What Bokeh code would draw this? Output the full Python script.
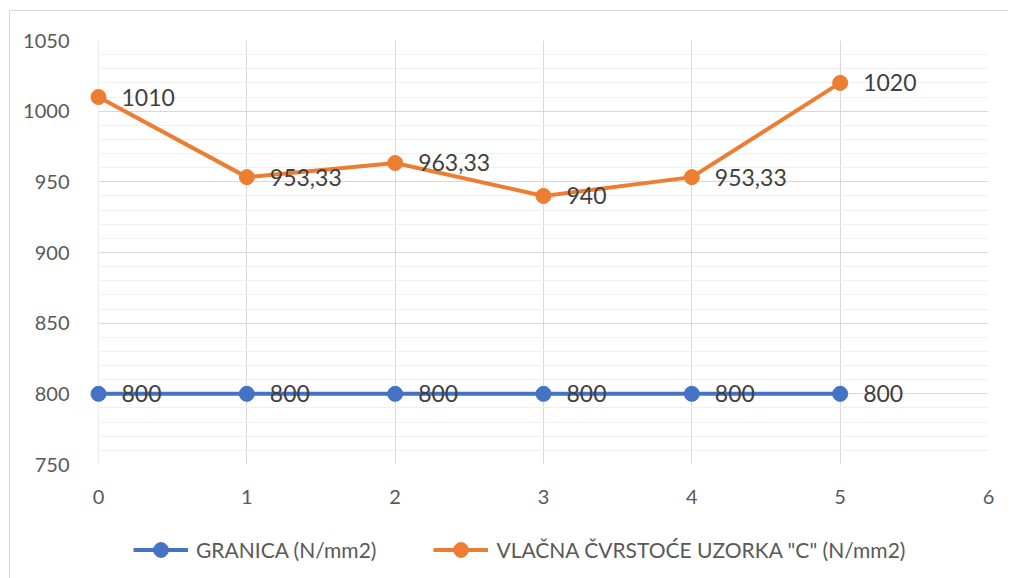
from bokeh.plotting import figure
from bokeh.layouts import column
from bokeh.models import (Range1d, ColumnDataSource, Legend, LegendItem, FixedTicker,
                          LabelSet, BoxAnnotation)
from bokeh.core.properties import value
from bokeh.embed import file_html
from bokeh.resources import INLINE

x_vals = [0, 1, 2, 3, 4, 5]
granica = [800, 800, 800, 800, 800, 800]
vlacna = [1010, 953.33, 963.33, 940, 953.33, 1020]
granica_labels = ["800", "800", "800", "800", "800", "800"]
vlacna_labels = ["1010", "953,33", "963,33", "940", "953,33", "1020"]
y_ticks = [750, 800, 850, 900, 950, 1000, 1050]
x_ticks = [0, 1, 2, 3, 4, 5, 6]
series_names = ["GRANICA (N/mm2)", "VLAČNA ČVRSTOĆE UZORKA \"C\" (N/mm2)"]

BLUE = "#4472C4"
ORANGE = "#ED7D31"
TXT = "#595959"
FONT = "Lato"

# frame starts 10px left of x=0 so the first markers are not clipped
PAD = 10 / (890 / 6)
p = figure(width=998, height=513, output_backend="svg", toolbar_location=None,
           x_range=Range1d(-PAD, 6), y_range=Range1d(750, 1050),
           min_border_left=78, min_border_right=20, min_border_top=29, min_border_bottom=60)
p.outline_line_color = None
p.background_fill_color = "white"
p.border_fill_color = "white"

p.xaxis.ticker = FixedTicker(ticks=x_ticks)
p.yaxis.ticker = FixedTicker(ticks=y_ticks, minor_ticks=list(range(750, 1051, 10)))
for ax in (p.xaxis, p.yaxis):
    ax.major_tick_line_color = None
    ax.minor_tick_line_color = None
    ax.major_label_text_font = FONT
    ax.major_label_text_font_size = "20px"
    ax.major_label_text_color = TXT
    ax.axis_line_color = None
p.yaxis.major_label_standoff = 13
p.xaxis.major_label_standoff = 19

p.xgrid.grid_line_color = "#d9d9d9"
p.ygrid.grid_line_color = "#d9d9d9"
p.ygrid.minor_grid_line_color = "#f0f0f0"

# white strip hiding the grid left of x = 0
p.add_layout(BoxAnnotation(right=0, fill_color="white", fill_alpha=1,
                           line_color=None, level="underlay"))

src_g = ColumnDataSource(dict(x=x_vals, y=granica, t=granica_labels))
src_v = ColumnDataSource(dict(x=x_vals, y=vlacna, t=vlacna_labels))

p.line("x", "y", source=src_g, line_color=BLUE, line_width=4)
p.scatter("x", "y", source=src_g, size=15, fill_color=BLUE, line_color=BLUE)
p.line("x", "y", source=src_v, line_color=ORANGE, line_width=4)
p.scatter("x", "y", source=src_v, size=15, fill_color=ORANGE, line_color=ORANGE)

for src in (src_g, src_v):
    p.add_layout(LabelSet(x="x", y="y", text="t", source=src, x_offset=23, y_offset=0,
                          text_baseline="middle", text_align="left",
                          text_font=value(FONT), text_font_size="23px", text_color="#404040"))

# legend-only strip below the chart
lf = figure(width=998, height=54, output_backend="svg", toolbar_location=None,
            x_range=Range1d(0, 6), y_range=Range1d(0, 1),
            min_border=0, outline_line_color=None)
lf.axis.visible = False
lf.grid.visible = False
lg = lf.line("x", "y", source=src_g, line_color=BLUE, line_width=4)
cg = lf.scatter("x", "y", source=src_g, size=15, fill_color=BLUE, line_color=BLUE)
lv = lf.line("x", "y", source=src_v, line_color=ORANGE, line_width=4)
cv = lf.scatter("x", "y", source=src_v, size=15, fill_color=ORANGE, line_color=ORANGE)
legend = Legend(items=[LegendItem(label=series_names[0], renderers=[lg, cg]),
                       LegendItem(label=series_names[1], renderers=[lv, cv])],
                orientation="horizontal", location=(45, 10),
                label_text_font=FONT, label_text_font_size="21px", label_text_color=TXT,
                glyph_width=55, glyph_height=37, spacing=57, label_standoff=8,
                border_line_color=None, background_fill_alpha=0, margin=0, padding=0)
lf.add_layout(legend, "center")

layout = column(p, lf, spacing=0)
layout.margin = (10, 0, 0, 9)
layout.styles = {"border-left": "1px solid #d9d9d9", "border-top": "1px solid #d9d9d9"}

open("out.html", "w").write(file_html(layout, INLINE))
